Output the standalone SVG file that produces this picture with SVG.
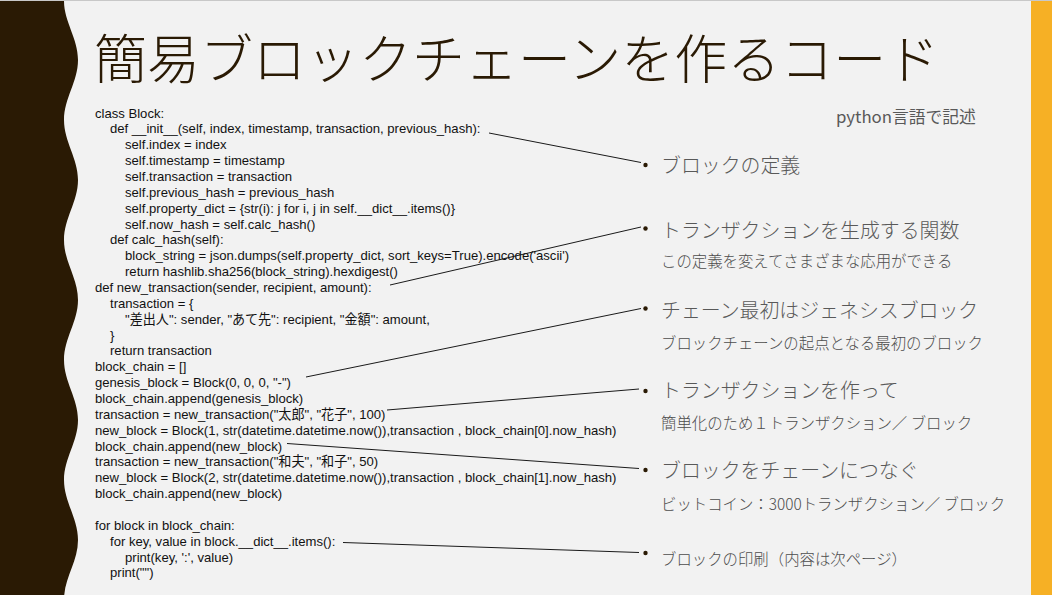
<svg xmlns="http://www.w3.org/2000/svg" width="1052" height="595" viewBox="0 0 1052 595">
  <style>
    .code { font-family: "Liberation Sans", "Noto Sans CJK JP", sans-serif; font-size: 13.1px; fill: #111111; white-space: pre; }
    .title { font-family: "Noto Sans CJK JP", sans-serif; font-size: 53px; font-weight: 300; fill: #2a1a04; }
    .head { font-family: "Noto Sans CJK JP", sans-serif; font-size: 19.9px; font-weight: 300; fill: #595959; }
    .sub { font-family: "Noto Sans CJK JP", sans-serif; font-size: 15.4px; font-weight: 300; fill: #4d4d4d; }
    .note { font-family: "Noto Sans CJK JP", sans-serif; font-size: 16.8px; fill: #595959; }
    .conn { stroke: #1a1a1a; stroke-width: 1; fill: none; }
    .dot { fill: #2a1a04; }
  </style>
  <rect x="0" y="0" width="1052" height="595" fill="#f2f2f2"/>
  <line x1="0" y1="0.5" x2="1052" y2="0.5" stroke="#c8c8c8" stroke-width="1"/>
  <g id="left-band">
    <path fill="#2a1a04" d="M0,1 L64,1 C64,22 78,38 78,60 C78,82 64,98 64,120 C64,142 78,158 78,180 C78,202 64,218 64,240 C64,262 78,278 78,300 C78,322 64,338 64,360 C64,382 78,398 78,420 C78,442 64,458 64,480 C64,502 78,518 78,540 C78,562 64,578 64,600 L0,600 Z"/>
  </g>
  <rect id="right-band" x="1031" y="1" width="21" height="594" fill="#f6b025"/>

  <g id="title">
    <text class="title" x="94" y="79">簡易ブロックチェーンを作るコード</text>
  </g>
  <g id="lang-note">
    <text class="note" x="836" y="123">python言語で記述</text>
  </g>

  <g id="code">
    <text class="code" x="95" y="117.5">class Block:</text>
    <text class="code" x="110" y="133.4">def __init__(self, index, timestamp, transaction, previous_hash):</text>
    <text class="code" x="125" y="149.2">self.index = index</text>
    <text class="code" x="125" y="165.1">self.timestamp = timestamp</text>
    <text class="code" x="125" y="180.9">self.transaction = transaction</text>
    <text class="code" x="125" y="196.8">self.previous_hash = previous_hash</text>
    <text class="code" x="125" y="212.7">self.property_dict = {str(i): j for i, j in self.__dict__.items()}</text>
    <text class="code" x="125" y="228.5">self.now_hash = self.calc_hash()</text>
    <text class="code" x="110" y="244.4">def calc_hash(self):</text>
    <text class="code" x="125" y="260.2">block_string = json.dumps(self.property_dict, sort_keys=True).encode('ascii')</text>
    <text class="code" x="125" y="276.1">return hashlib.sha256(block_string).hexdigest()</text>
    <text class="code" x="95" y="292">def new_transaction(sender, recipient, amount):</text>
    <text class="code" x="110" y="307.8">transaction = {</text>
    <text class="code" x="125" y="323.7">"差出人": sender, "あて先": recipient, "金額": amount,</text>
    <text class="code" x="110" y="339.5">}</text>
    <text class="code" x="110" y="355.4">return transaction</text>
    <text class="code" x="95" y="371.3">block_chain = []</text>
    <text class="code" x="95" y="387.1">genesis_block = Block(0, 0, 0, "-")</text>
    <text class="code" x="95" y="403">block_chain.append(genesis_block)</text>
    <text class="code" x="95" y="418.8">transaction = new_transaction("太郎", "花子", 100)</text>
    <text class="code" x="95" y="434.7">new_block = Block(1, str(datetime.datetime.now()),transaction , block_chain[0].now_hash)</text>
    <text class="code" x="95" y="450.6">block_chain.append(new_block)</text>
    <text class="code" x="95" y="466.4">transaction = new_transaction("和夫", "和子", 50)</text>
    <text class="code" x="95" y="482.3">new_block = Block(2, str(datetime.datetime.now()),transaction , block_chain[1].now_hash)</text>
    <text class="code" x="95" y="498.1">block_chain.append(new_block)</text>
    <text class="code" x="95" y="529.9">for block in block_chain:</text>
    <text class="code" x="110" y="545.7">for key, value in block.__dict__.items():</text>
    <text class="code" x="125" y="561.6">print(key, ':', value)</text>
    <text class="code" x="110" y="577.4">print("")</text>
  </g>

  <g id="connectors">
    <line class="conn" x1="489" y1="133" x2="641" y2="162.5"/>
    <line class="conn" x1="390" y1="285" x2="641" y2="227"/>
    <line class="conn" x1="306" y1="377" x2="641" y2="308.5"/>
    <line class="conn" x1="387" y1="410" x2="639" y2="389"/>
    <line class="conn" x1="287" y1="443.5" x2="639" y2="468.5"/>
    <line class="conn" x1="343" y1="542.5" x2="639" y2="552.5"/>
  </g>

  <g id="item-block-def">
    <circle class="dot" cx="645.5" cy="165" r="2.2"/>
    <text class="head" x="661" y="172.6">ブロックの定義</text>
  </g>
  <g id="item-transaction-func">
    <circle class="dot" cx="645.5" cy="228.5" r="2.2"/>
    <text class="head" x="661" y="237.6">トランザクションを生成する関数</text>
    <text class="sub" x="661" y="267.4">この定義を変えてさまざまな応用ができる</text>
  </g>
  <g id="item-genesis">
    <circle class="dot" cx="645.5" cy="308.5" r="2.2"/>
    <text class="head" x="661" y="317.6">チェーン最初はジェネシスブロック</text>
    <text class="sub" x="661" y="348.7">ブロックチェーンの起点となる最初のブロック</text>
  </g>
  <g id="item-make-transaction">
    <circle class="dot" cx="645.5" cy="391" r="2.2"/>
    <text class="head" x="661" y="398">トランザクションを作って</text>
    <text class="sub" x="661" y="429.4">簡単化のため１トランザクション／ ブロック</text>
  </g>
  <g id="item-chain">
    <circle class="dot" cx="645.5" cy="470" r="2.2"/>
    <text class="head" x="661" y="478.4">ブロックをチェーンにつなぐ</text>
    <text class="sub" x="661" y="509.7">ビットコイン：3000トランザクション／ ブロック</text>
  </g>
  <g id="item-print">
    <circle class="dot" cx="645.5" cy="553" r="2.2"/>
    <text class="sub" x="661" y="564.5">ブロックの印刷（内容は次ページ）</text>
  </g>
</svg>
